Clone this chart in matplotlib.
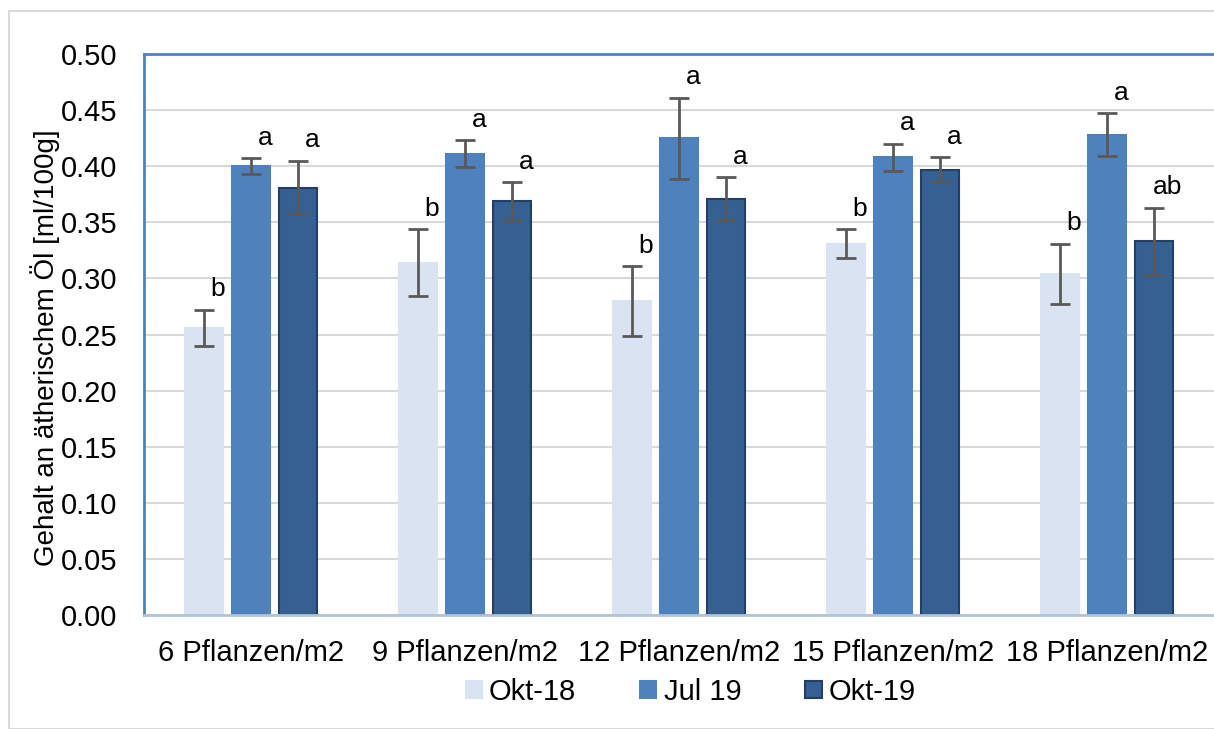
import matplotlib
matplotlib.use("Agg")
import matplotlib.pyplot as plt
from matplotlib.patches import Rectangle
import numpy as np

plt.rcParams['font.family'] = ['Liberation Sans', 'DejaVu Sans']

categories = ["6 Pflanzen/m2", "9 Pflanzen/m2", "12 Pflanzen/m2", "15 Pflanzen/m2", "18 Pflanzen/m2"]
series_names = ["Okt-18", "Jul 19", "Okt-19"]
okt18 = [0.256, 0.314, 0.280, 0.331, 0.304]
jul19 = [0.400, 0.411, 0.425, 0.408, 0.428]
okt19 = [0.381, 0.369, 0.371, 0.397, 0.333]
err_okt18 = [0.016, 0.030, 0.031, 0.013, 0.027]
err_jul19 = [0.007, 0.012, 0.036, 0.012, 0.019]
err_okt19 = [0.024, 0.017, 0.019, 0.011, 0.030]
letters_okt18 = ["b", "b", "b", "b", "b"]
letters_jul19 = ["a", "a", "a", "a", "a"]
letters_okt19 = ["a", "a", "a", "a", "ab"]
yticks = [0.00, 0.05, 0.10, 0.15, 0.20, 0.25, 0.30, 0.35, 0.40, 0.45, 0.50]

colors = ["#DAE3F2", "#4F81BD", "#366092"]
edges = ["#DAE3F2", "#4F81BD", "#243F66"]

fig = plt.figure(figsize=(12.14, 7.29), dpi=100)
fig.patches.append(Rectangle((9/1214, 0.0), 1.0, 1 - 11/729, transform=fig.transFigure,
                             fill=False, edgecolor="#D9D9D9", linewidth=1.5, zorder=0))
ax = fig.add_axes([144/1214, 1 - 615/729, 1 - 144/1214, (615 - 54)/729])

x = np.arange(len(categories))
offsets = [-0.22, 0.0, 0.22]
width = 0.18
data = [okt18, jul19, okt19]
errs = [err_okt18, err_jul19, err_okt19]
letters = [letters_okt18, letters_jul19, letters_okt19]

for i in range(3):
    pos = x + offsets[i]
    ax.bar(pos, data[i], width=width, color=colors[i], edgecolor=edges[i],
           linewidth=1.5, label=series_names[i], zorder=2)
    ax.errorbar(pos, data[i], yerr=errs[i], fmt='none', ecolor="#595959",
                elinewidth=2, capsize=7, capthick=2, zorder=3)
    for xp, v, e, t in zip(pos, data[i], errs[i], letters[i]):
        ax.annotate(t, (xp, v + e), xytext=(10, 6), textcoords="offset points",
                    ha="center", va="bottom", fontsize=19)

ax.set_xlim(-0.5, len(categories) - 0.5)
ax.set_ylim(0, 0.5)
ax.set_yticks(yticks)
ax.set_yticklabels([f"{v:.2f}" for v in yticks], fontsize=21)
ax.set_xticks(x)
ax.set_xticklabels(categories, fontsize=21)
ax.tick_params(axis='both', length=0)
ax.tick_params(axis='y', pad=19)
ax.tick_params(axis='x', pad=17)
ax.yaxis.grid(True, color="#D9D9D9", linewidth=1.5, zorder=0)
ax.set_axisbelow(True)
ax.spines['left'].set_color("#4F81BD")
ax.spines['top'].set_color("#4F81BD")
ax.spines['left'].set_linewidth(2)
ax.spines['top'].set_linewidth(2)
ax.spines['bottom'].set_color("#B4C3D6")
ax.spines['bottom'].set_linewidth(2)
ax.spines['right'].set_visible(False)
ax.set_ylabel("Gehalt an ätherischem Öl [ml/100g]", fontsize=20, labelpad=2)
ax.yaxis.set_label_coords(-84/1070, 0.477)

leg = ax.legend(loc="center", bbox_to_anchor=(0.511, -0.137), ncol=3, frameon=False,
                fontsize=21, handlelength=0.55, handleheight=0.55, handletextpad=0.25,
                columnspacing=2.2)

fig.savefig("out.png", dpi=100)
